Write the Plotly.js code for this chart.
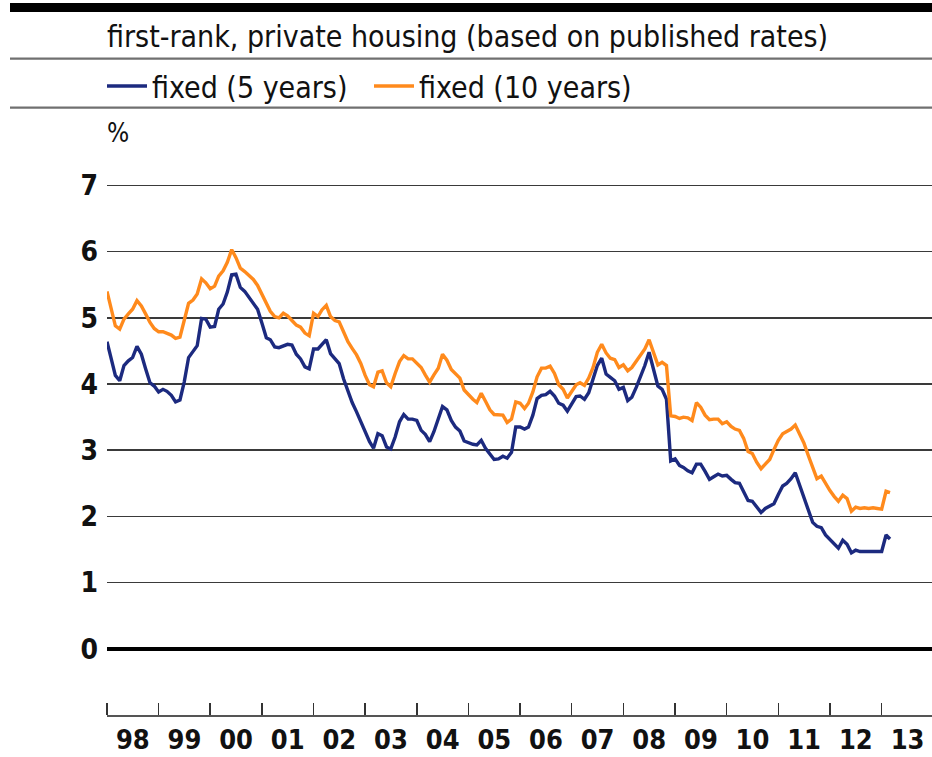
<!DOCTYPE html>
<html>
<head>
<meta charset="utf-8">
<script src="https://cdn.plot.ly/plotly-3.0.1.min.js"></script>
<style>
  html, body { margin: 0; padding: 0; background: #fff; }
  #chart { width: 932px; height: 757px; }
</style>
</head>
<body>
<div id="chart"></div>
<script>
// Monthly observations, January 1998 to March 2013
const startYear = 1998;
const nMonths = 183;
const months = [];
for (let i = 0; i < nMonths; i++) {
  const y = startYear + Math.floor(i / 12);
  const m = (i % 12) + 1;
  months.push(y + '-' + String(m).padStart(2, '0') + '-01');
}

// fixed (5 years), %
const fixed5 = [
  4.64, 4.38, 4.13, 4.05, 4.28, 4.35, 4.40, 4.57, 4.45, 4.23, 4.02, 3.97,
  3.88, 3.92, 3.89, 3.83, 3.73, 3.76, 4.03, 4.40, 4.49, 4.58, 4.99, 4.98,
  4.86, 4.87, 5.13, 5.21, 5.39, 5.65, 5.66, 5.46, 5.40, 5.31, 5.22, 5.13,
  4.92, 4.70, 4.67, 4.56, 4.55, 4.57, 4.60, 4.59, 4.45, 4.38, 4.26, 4.23,
  4.53, 4.53, 4.60, 4.67, 4.46, 4.39, 4.31, 4.08, 3.88, 3.72, 3.58, 3.44,
  3.29, 3.13, 3.03, 3.25, 3.22, 3.05, 3.02, 3.20, 3.43, 3.54, 3.47, 3.47,
  3.45, 3.30, 3.24, 3.13, 3.28, 3.49, 3.66, 3.61, 3.45, 3.35, 3.29, 3.14,
  3.11, 3.09, 3.08, 3.15, 3.03, 2.94, 2.86, 2.87, 2.91, 2.88, 2.97, 3.35,
  3.35, 3.32, 3.35, 3.53, 3.78, 3.83, 3.84, 3.89, 3.82, 3.71, 3.68, 3.59,
  3.71, 3.81, 3.82, 3.77, 3.87, 4.08, 4.28, 4.39, 4.15, 4.10, 4.05, 3.92,
  3.95, 3.75, 3.80, 3.95, 4.10, 4.28, 4.48, 4.23, 3.97, 3.92, 3.77, 2.84,
  2.87, 2.77, 2.74, 2.69, 2.66, 2.79, 2.79, 2.68, 2.56, 2.60, 2.64, 2.61,
  2.62, 2.56, 2.51, 2.50, 2.38, 2.24, 2.23, 2.14, 2.06, 2.12, 2.16, 2.19,
  2.33, 2.46, 2.50, 2.57, 2.66, 2.47, 2.28, 2.09, 1.91, 1.85, 1.83, 1.72,
  1.65, 1.58, 1.52, 1.64, 1.58, 1.45, 1.49, 1.47, 1.47, 1.48, 1.47, 1.47,
  1.47, 1.72, 1.66
];

// fixed (10 years), %
const fixed10 = [
  5.40, 5.13, 4.88, 4.83, 4.98, 5.06, 5.13, 5.26, 5.18, 5.06, 4.93, 4.84,
  4.79, 4.79, 4.76, 4.74, 4.69, 4.71, 4.96, 5.22, 5.27, 5.36, 5.59, 5.53,
  5.44, 5.48, 5.63, 5.71, 5.84, 6.03, 5.91, 5.75, 5.70, 5.64, 5.58, 5.49,
  5.35, 5.20, 5.10, 5.02, 5.00, 5.07, 5.03, 4.96, 4.89, 4.86, 4.77, 4.73,
  5.07, 5.02, 5.12, 5.19, 5.02, 4.96, 4.94, 4.79, 4.64, 4.54, 4.44, 4.31,
  4.13, 3.99, 3.96, 4.18, 4.20, 4.02, 3.96, 4.16, 4.34, 4.43, 4.38, 4.38,
  4.31, 4.25, 4.14, 4.03, 4.14, 4.24, 4.45, 4.36, 4.22, 4.16, 4.09, 3.91,
  3.83, 3.77, 3.72, 3.86, 3.74, 3.61, 3.54, 3.54, 3.53, 3.42, 3.47, 3.73,
  3.71, 3.63, 3.71, 3.88, 4.11, 4.24, 4.24, 4.27, 4.16, 3.99, 3.92, 3.79,
  3.88, 3.99, 4.02, 3.98, 4.09, 4.25, 4.48, 4.60, 4.47, 4.39, 4.37, 4.25,
  4.29, 4.20, 4.25, 4.34, 4.42, 4.53, 4.67, 4.48, 4.29, 4.33, 4.28, 3.52,
  3.51, 3.48, 3.50, 3.49, 3.45, 3.72, 3.65, 3.53, 3.46, 3.47, 3.47, 3.40,
  3.43, 3.36, 3.32, 3.30, 3.18, 2.98, 2.95, 2.82, 2.72, 2.79, 2.86, 3.01,
  3.15, 3.25, 3.28, 3.32, 3.38, 3.23, 3.11, 2.92, 2.75, 2.57, 2.61, 2.50,
  2.39, 2.30, 2.23, 2.32, 2.27, 2.08, 2.14, 2.12, 2.13, 2.12, 2.13, 2.12,
  2.11, 2.38, 2.36
];

const seriesNames = ['fixed (5 years)', 'fixed (10 years)'];
const yTicks = [0, 1, 2, 3, 4, 5, 6, 7];
const titleText = 'first-rank, private housing (based on published rates)';
const unitText = '%';

const FONT = "'DejaVu Sans Condensed', 'DejaVu Sans', sans-serif";

// geometry helpers (pixel -> paper)
const W = 932, H = 757;
const mL = 107, mR = 0, mT = 146, mB = 42;
const pw = W - mL - mR, ph = H - mT - mB;
const px = x => (x - mL) / pw;
const py = y => (H - mB - y) / ph;

const traces = [
  {
    x: months, y: fixed5, name: seriesNames[0], type: 'scatter', mode: 'lines',
    line: { color: '#1c2a7f', width: 3.4 }
  },
  {
    x: months, y: fixed10, name: seriesNames[1], type: 'scatter', mode: 'lines',
    line: { color: '#ff8a1c', width: 3.4 }
  }
];

const layout = {
  width: W, height: H, autosize: false,
  margin: { l: mL, r: mR, t: mT, b: mB, pad: 0 },
  paper_bgcolor: '#ffffff', plot_bgcolor: '#ffffff',
  font: { family: FONT, color: '#111111' },
  showlegend: true,
  legend: {
    orientation: 'h', xref: 'container', yref: 'container',
    x: 102 / W, y: 1 - 86 / H, xanchor: 'left', yanchor: 'middle',
    font: { family: FONT, size: 30, color: '#111111' },
    bgcolor: 'rgba(0,0,0,0)', borderwidth: 0, itemwidth: 40,
    entrywidthmode: 'pixels', entrywidth: 212,
    traceorder: 'normal'
  },
  xaxis: {
    type: 'date',
    range: ['1998-01-01', '2013-12-23'],
    tick0: '1998-01-01', dtick: 'M12',
    ticklabelmode: 'period', tickformat: '%y',
    ticks: 'inside', ticklen: 12, tickwidth: 1.5, tickcolor: '#333333',
    showgrid: false, zeroline: false,
    showline: true, linecolor: '#555555', linewidth: 2,
    tickfont: { family: FONT, size: 27, weight: 'bold', color: '#111111' },
    fixedrange: true
  },
  yaxis: {
    range: [-1, -1 + ph / 66.19],
    tickvals: yTicks, ticktext: yTicks.map(String),
    ticks: '', showline: false,
    showgrid: true, gridcolor: '#3a3a3a', gridwidth: 1.5,
    zeroline: true, zerolinecolor: '#000000', zerolinewidth: 4,
    tickfont: { family: FONT, size: 28, weight: 'bold', color: '#111111' },
    ticklabelstandoff: 8,
    fixedrange: true
  },
  shapes: [
    { type: 'rect', xref: 'paper', yref: 'paper',
      x0: px(10), x1: px(W + 2), y0: py(12), y1: py(3),
      fillcolor: '#000000', line: { width: 0 } },
    { type: 'line', xref: 'paper', yref: 'paper',
      x0: px(10), x1: px(W + 2), y0: py(58.7), y1: py(58.7),
      line: { color: '#707070', width: 2.3 } },
    { type: 'line', xref: 'paper', yref: 'paper',
      x0: px(10), x1: px(W + 2), y0: py(107.7), y1: py(107.7),
      line: { color: '#707070', width: 2.3 } }
  ],
  annotations: [
    { text: titleText, xref: 'paper', yref: 'paper',
      x: px(105), y: py(36), xanchor: 'left', yanchor: 'middle',
      showarrow: false, font: { family: FONT, size: 30, color: '#111111' } },
    { text: unitText, xref: 'paper', yref: 'paper',
      x: px(105), y: py(133), xanchor: 'left', yanchor: 'middle',
      showarrow: false, font: { family: FONT, size: 26, color: '#111111' } }
  ]
};

Plotly.newPlot('chart', traces, layout, { staticPlot: true, displayModeBar: false });
</script>
</body>
</html>
